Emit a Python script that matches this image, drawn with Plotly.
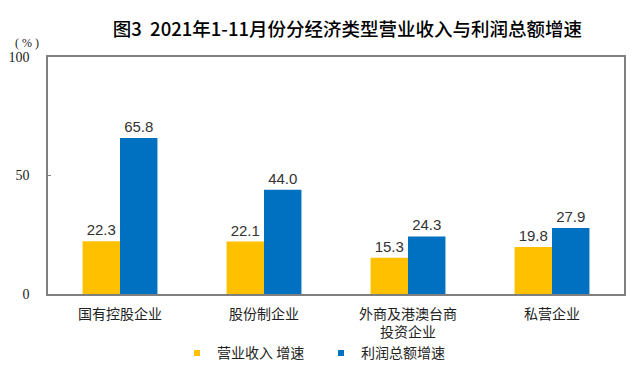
import plotly.graph_objects as go

categories = ["国有控股企业", "股份制企业", "外商及港澳台商<br>投资企业", "私营企业"]
revenue_growth = [22.3, 22.1, 15.3, 19.8]
profit_growth = [65.8, 44.0, 24.3, 27.9]
series_names = ["营业收入 增速", "利润总额增速"]
y_ticks = [0, 50, 100]

YELLOW = "#FFC000"
BLUE = "#0070C0"

fig = go.Figure()
for name, vals, col in [(series_names[0], revenue_growth, YELLOW),
                        (series_names[1], profit_growth, BLUE)]:
    fig.add_trace(go.Bar(
        x=categories, y=vals, name=name, marker=dict(color=col, line_width=0),
        text=[f"{v:.1f}" for v in vals], textposition="outside",
        textfont=dict(family="Liberation Sans, Arial, sans-serif", size=15, color="#333333"),
        cliponaxis=False, showlegend=False, legendgroup=name,
    ))
    fig.add_trace(go.Scatter(
        x=[None], y=[None], mode="markers", name=name, legendgroup=name,
        marker=dict(symbol="square", size=6, color=col), showlegend=True,
    ))

# page body has an 8px default margin, so the figure is 8px smaller than the window
fig.update_layout(
    width=632, height=359,
    margin=dict(l=40, r=16, t=49, b=73),
    paper_bgcolor="white", plot_bgcolor="white",
    barmode="group", bargap=0.48, bargroupgap=0,
    title=dict(text="图3  2021年1-11月份分经济类型营业收入与利润总额增速",
               x=0.537, xanchor="center", y=0.939, yanchor="middle",
               font=dict(family="Noto Sans CJK SC", size=18.5, color="#000000", weight=500)),
    font=dict(family="Noto Sans CJK SC", size=14, color="#222222"),
    legend=dict(orientation="h", x=0.224, xanchor="left", xref="paper",
                y=0.038, yanchor="middle", yref="container",
                font=dict(family="Noto Sans CJK SC", size=14, color="#222222"),
                bgcolor="rgba(0,0,0,0)", tracegroupgap=0, entrywidth=99),
    annotations=[dict(text="( % )", xref="paper", yref="paper", x=-0.036, y=1.06,
                      xanchor="center", yanchor="middle", showarrow=False,
                      font=dict(family="Liberation Serif, serif", size=12, color="#222222"))],
)
fig.update_xaxes(
    type="category", range=[-0.5, 3.5], showline=True, linecolor="#808080", linewidth=1.5,
    mirror=True, ticks="", showgrid=False, ticklabelstandoff=6, automargin=False,
    tickfont=dict(family="Noto Sans CJK SC", size=14, color="#222222"),
)
fig.update_yaxes(
    range=[0, 100], tickvals=y_ticks, showline=True, linecolor="#808080", linewidth=1.5,
    mirror=True, ticks="inside", ticklen=3, tickcolor="#808080", showgrid=False,
    zeroline=False, ticklabelstandoff=14, automargin=False,
    tickfont=dict(family="Liberation Serif, serif", size=14, color="#222222"),
)

fig.write_html("out.html")
